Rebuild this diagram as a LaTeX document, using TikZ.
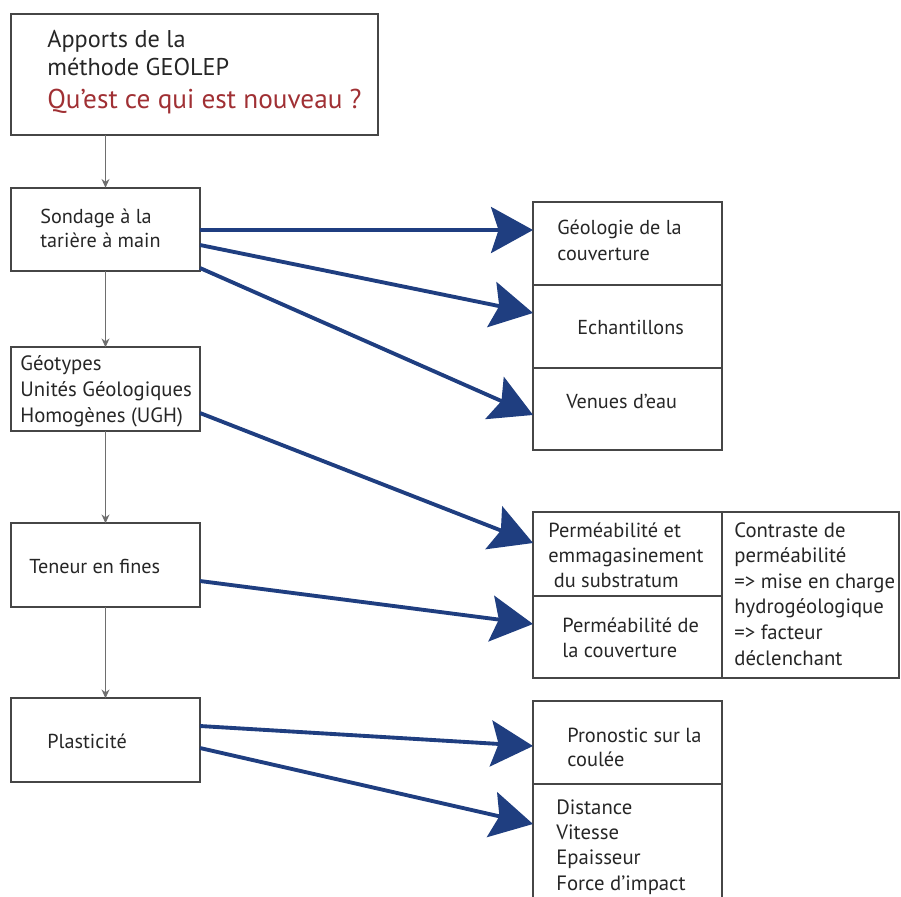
\documentclass[tikz,border=0pt]{standalone}
\usepackage{fontspec}
\setmainfont{PT Sans}
\usetikzlibrary{arrows.meta, calc, positioning}

\definecolor{bleuFleche}{RGB}{31,62,128}
\definecolor{cadre}{RGB}{70,70,70}
\definecolor{grisFleche}{RGB}{110,110,110}
\definecolor{rougeTitre}{RGB}{160,48,52}

\begin{document}
\begin{tikzpicture}[x=0.02cm, y=-0.02cm,
  boite/.style={draw=cadre, line width=1.1pt, minimum width=3.78cm, minimum height=1.67cm, inner sep=0pt, outer sep=0pt},
  texte/.style={anchor=base west, align=left, inner sep=0pt, text=black!85, font=\fontsize{11.5}{14.4}\selectfont},
  descente/.style={draw=grisFleche, line width=0.8pt, -{Stealth[length=5pt, width=4.5pt]}},
  fleche/.style={draw=bleuFleche, line width=2.2pt, -{Stealth[length=0.84cm, width=0.92cm, inset=0.15cm]}}]

  % --- CADRE GENERAL (mêmes marges que l'original) ---
  \useasboundingbox (0,0) rectangle (901,896);
  \clip (0,0) rectangle (901,896);

  % --- COLONNE DE GAUCHE ---
  \node[boite, minimum width=7.34cm, minimum height=2.42cm] (apports) at (194.5,74.5) {};
  \node[boite] (sondage)    at (105.5,229.5) {};
  \node[boite] (geotypes)   at (105.5,389)   {};
  \node[boite] (teneur)     at (105.5,565)   {};
  \node[boite] (plasticite) at (105.5,740)   {};

  % Textes de la colonne de gauche (ancre = ligne de base de la dernière ligne)
  \node[texte, font=\fontsize{13.8}{15.9}\selectfont] (tApports) at (47,75) {Apports de la\\méthode GEOLEP};
  \node[texte, text=rougeTitre, font=\fontsize{15.5}{18}\selectfont] (tNouveau) at (47,108) {Qu’est ce qui est nouveau ?};
  \node[texte, font=\fontsize{11.5}{13.6}\selectfont] (tSondage) at (40,247) {Sondage à la\\tarière à main};
  \node[texte, font=\fontsize{11.8}{14.6}\selectfont] (tGeotypes) at (20,422) {Géotypes\\Unités Géologiques\\Homogènes (UGH)};
  \node[texte] (tTeneur)     at (29,573)  {Teneur en fines};
  \node[texte] (tPlasticite) at (47,748)  {Plasticité};

  % --- PREMIERE PILE (sondage) ---
  \node[boite, minimum height=1.66cm] (geologie) at (627.5,243.5) {};
  \node[boite, minimum height=1.66cm, below=0pt of geologie] (echantillons) {};
  \node[boite, minimum height=1.64cm, below=0pt of echantillons] (venues) {};

  \node[texte] (tGeologie)     at (557,260) {Géologie de la\\couverture};
  \node[texte] (tEchantillons) at (577,334) {Echantillons};
  \node[texte] (tVenues)       at (566,408) {Venues d’eau};

  % --- DEUXIEME PILE (perméabilités) ---
  \node[boite, minimum height=1.68cm] (permSub) at (627.5,554) {};
  \node[boite, minimum height=1.64cm, below=0pt of permSub] (permCouv) {};
  \node[boite, minimum width=3.54cm, minimum height=3.32cm, anchor=north west] (contraste) at (permSub.north east) {};

  \node[texte, font=\fontsize{11.6}{14}\selectfont] (tPermSub) at (548,587) {Perméabilité et\\emmagasinement\\\ du substratum};
  \node[texte, font=\fontsize{11.6}{13.8}\selectfont] (tPermCouv) at (562,657) {Perméabilité de\\la couverture};
  \node[texte, font=\fontsize{11.8}{14.55}\selectfont] (tContraste) at (734,665)
    {Contraste de\\perméabilité\\=> mise en charge\\hydrogéologique\\=> facteur\\déclenchant};

  % --- TROISIEME PILE (coulée) ---
  \node[boite, minimum height=1.66cm] (pronostic) at (627.5,742.5) {};
  \node[boite, minimum height=3cm, below=0pt of pronostic] (distance) {};

  \node[texte, font=\fontsize{11.6}{13.6}\selectfont] (tPronostic) at (567,766) {Pronostic sur la\\coulée};
  \node[texte, font=\fontsize{11.8}{14.4}\selectfont] (tDistance) at (556,890)
    {Distance\\Vitesse\\Epaisseur\\Force d’impact};

  % --- FLECHES GRISES (enchaînement vertical) ---
  \draw[descente] (apports.south -| sondage.north) -- (sondage.north);
  \foreach \a/\b in {sondage/geotypes, geotypes/teneur, teneur/plasticite}
    \draw[descente] (\a) -- (\b);

  % --- FLECHES BLEUES (apports) ---
  % source / décalage départ / cible / décalage arrivée (en pixels de l'original)
  \foreach \s/\ds/\t/\dt in {sondage/0.5/geologie/-13.5,
                             sondage/15.5/echantillons/-13.5,
                             sondage/38.5/venues/6,
                             geotypes/24/permSub/-11,
                             teneur/16/permCouv/-13,
                             plasticite/-14/pronostic/3.5}
    \draw[fleche] ($(\s.east)+(0,\ds)$) -- ($(\t.west)+(0,\dt)$);
  \draw[fleche] ($(plasticite.east)+(0,8)$) -- ($(distance.north west)+(0,40)$);

\end{tikzpicture}
\end{document}
